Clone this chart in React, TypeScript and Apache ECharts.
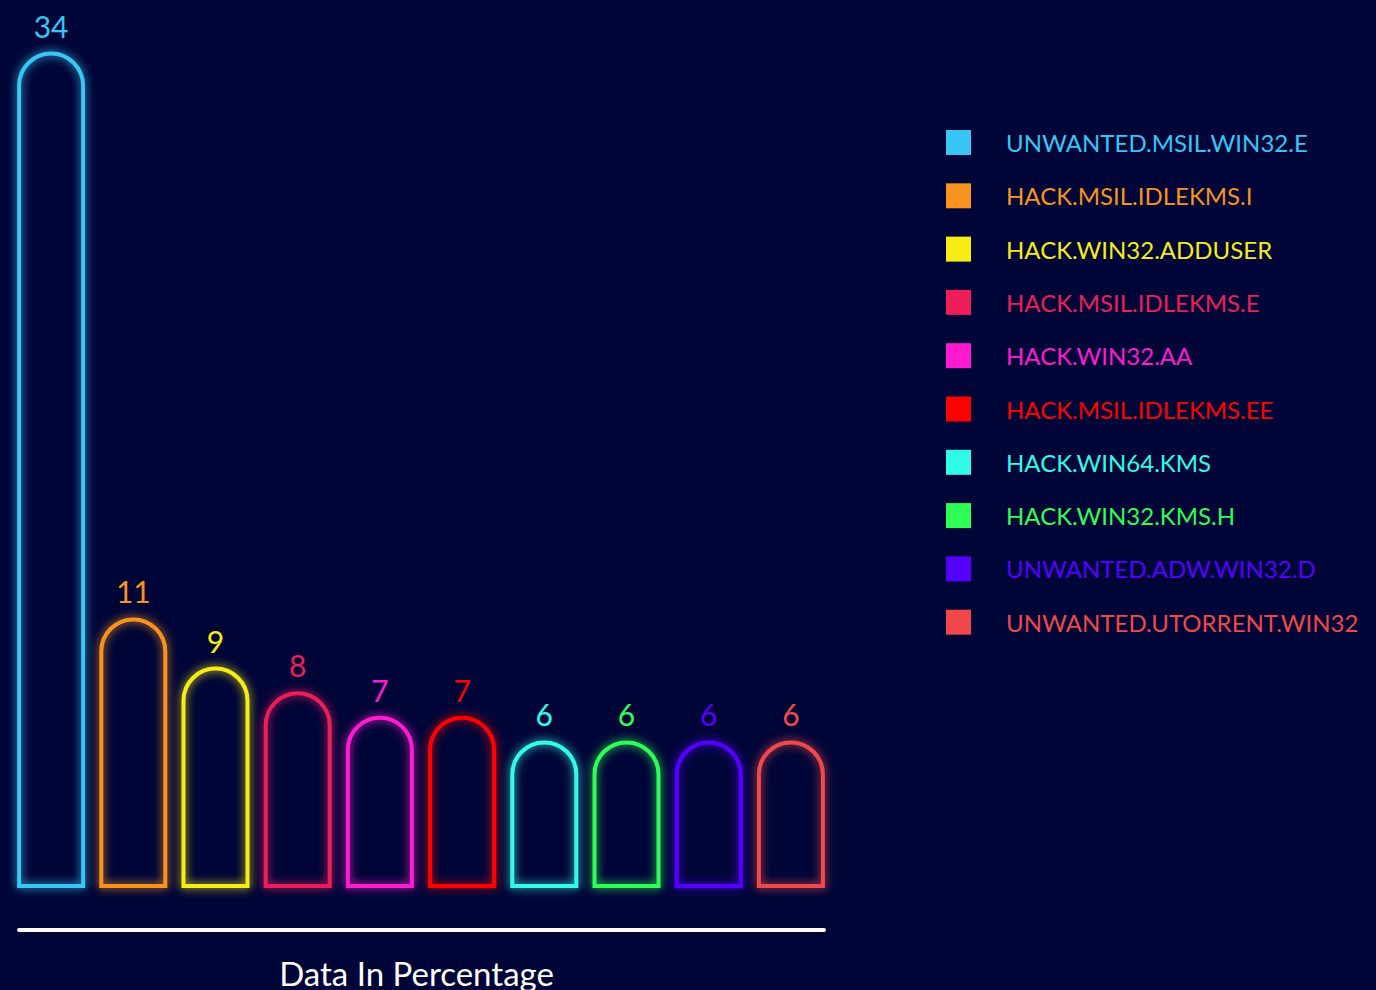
import React, { useEffect, useRef } from "react";
import * as echarts from "echarts";

const categories = [
  "UNWANTED.MSIL.WIN32.E",
  "HACK.MSIL.IDLEKMS.I",
  "HACK.WIN32.ADDUSER",
  "HACK.MSIL.IDLEKMS.E",
  "HACK.WIN32.AA",
  "HACK.MSIL.IDLEKMS.EE",
  "HACK.WIN64.KMS",
  "HACK.WIN32.KMS.H",
  "UNWANTED.ADW.WIN32.D",
  "UNWANTED.UTORRENT.WIN32",
];
const values = [34, 11, 9, 8, 7, 7, 6, 6, 6, 6];
const colors = [
  "#37c6f4",
  "#f7931e",
  "#f7ec13",
  "#ed1e5a",
  "#ff1ad0",
  "#ff0000",
  "#30fbe6",
  "#2efd56",
  "#5500ff",
  "#f04848",
];
const axisTitle = "Data In Percentage";

const FONT = "Lato, 'Noto Sans', sans-serif";

export default function App() {
  const ref = useRef<HTMLDivElement>(null);
  useEffect(() => {
    if (!ref.current) return;
    const chart = echarts.init(ref.current, undefined, { renderer: "svg" });
    const series = categories.map((name, i) => ({
      name,
      type: "bar",
      xAxisIndex: 0,
      yAxisIndex: 0,
      barWidth: 68,
      barGap: "-100%",
      data: values.map((v, j) => (j === i ? v : "-")),
      itemStyle: {
        color: "rgba(0,0,0,0)",
        borderColor: colors[i],
        borderWidth: 4,
        borderRadius: [34, 34, 0, 0],
        shadowBlur: 10,
        shadowColor: colors[i],
      },
      label: {
        show: true,
        position: "top",
        distance: 11,
        color: colors[i],
        fontSize: 30,
        fontFamily: FONT,
      },
    }));
    chart.setOption({
      animation: false,
      backgroundColor: "#000537",
      grid: [
        { left: 10, right: 544, top: 27, bottom: 102 },
        { left: 19, right: 552, top: 900, bottom: 60 },
      ],
      xAxis: [
        {
          type: "category",
          gridIndex: 0,
          data: categories,
          show: false,
        },
        {
          type: "category",
          gridIndex: 1,
          data: [""],
          axisLine: { show: true, lineStyle: { color: "#ffffff", width: 4 } },
          axisTick: { show: false },
          axisLabel: { show: false },
          name: axisTitle,
          nameLocation: "middle",
          nameGap: 26,
          nameTextStyle: {
            color: "#ffffff",
            fontSize: 33,
            fontFamily: FONT,
            padding: [0, 10, 0, 0],
          },
        },
      ],
      yAxis: [
        { type: "value", gridIndex: 0, min: 0, max: 35, show: false },
        { type: "value", gridIndex: 1, show: false },
      ],
      legend: {
        orient: "vertical",
        left: 946,
        top: 128,
        padding: 0,
        itemWidth: 25,
        itemHeight: 25,
        itemGap: 24.3,
        icon: "rect",
        selectedMode: false,
        textStyle: {
          fontSize: 24,
          fontFamily: FONT,
          lineHeight: 25,
          padding: [4, 0, 0, 30],
        },
        data: categories.map((name, i) => ({
          name,
          icon: "rect",
          itemStyle: { color: colors[i], borderWidth: 0, shadowBlur: 0 },
          textStyle: { color: colors[i] },
        })),
      },
      series,
    });
    return () => chart.dispose();
  }, []);
  return (
    <div
      ref={ref}
      style={{ position: "absolute", left: 0, top: 0, width: 1376, height: 990 }}
    />
  );
}
